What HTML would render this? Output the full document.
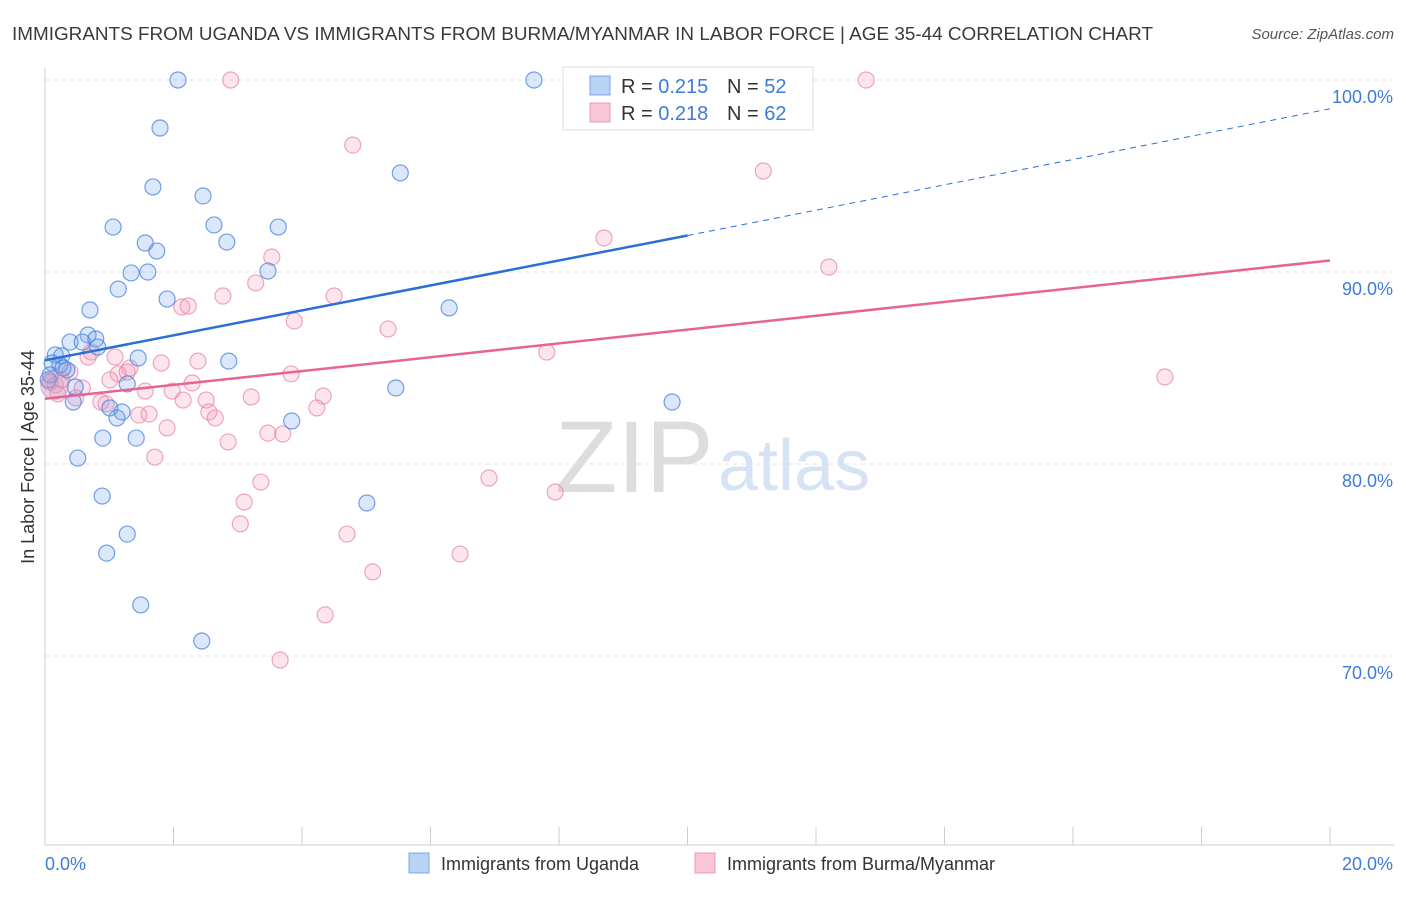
<!DOCTYPE html>
<html><head><meta charset="utf-8"><style>
body{margin:0;background:#fff;font-family:"Liberation Sans",sans-serif;}
svg text{font-family:"Liberation Sans",sans-serif;}
</style></head><body>
<svg id="chart" width="1406" height="892">
<text x="12" y="40" font-size="18" fill="#3a3a3a" textLength="1141" lengthAdjust="spacingAndGlyphs">IMMIGRANTS FROM UGANDA VS IMMIGRANTS FROM BURMA/MYANMAR IN LABOR FORCE | AGE 35-44 CORRELATION CHART</text>
<text x="1394" y="39" font-size="15" fill="#555" text-anchor="end" font-style="italic">Source: ZipAtlas.com</text>
<g>
<text x="555" y="492" font-size="102" fill="#ddd" font-family="Liberation Serif">ZIP</text>
<text x="718" y="490" font-size="72" fill="#d6e3f5">atlas</text>
</g>
<g id="grid"></g>
<line x1="45" y1="68" x2="45" y2="845" stroke="#ccc"/>
<line x1="45" y1="845" x2="1394" y2="845" stroke="#ccc"/>
<g id="ticks"></g>
<text transform="translate(34,457) rotate(-90)" font-size="18" fill="#333" text-anchor="middle">In Labor Force | Age 35-44</text>
<text x="45" y="870" font-size="18" fill="#3d7bd9">0.0%</text>
<text x="1393" y="870" font-size="18" fill="#3d7bd9" text-anchor="end">20.0%</text>
<g id="points"></g>
<g id="trends"></g>
<g>
<rect x="563" y="67" width="250" height="63" fill="#fff" stroke="#ddd"/>
<rect x="590" y="76" width="20" height="19" fill="#b9d3f5" stroke="#7aa7e6"/>
<rect x="590" y="103" width="20" height="19" fill="#f9c6d6" stroke="#ea9ab4"/>
<text x="621" y="93" font-size="20" fill="#333">R = <tspan fill="#3d7bd9">0.215</tspan></text>
<text x="727" y="93" font-size="20" fill="#333">N = <tspan fill="#3d7bd9">52</tspan></text>
<text x="621" y="120" font-size="20" fill="#333">R = <tspan fill="#3d7bd9">0.218</tspan></text>
<text x="727" y="120" font-size="20" fill="#333">N = <tspan fill="#3d7bd9">62</tspan></text>
</g>
<g>
<rect x="409" y="853" width="20" height="20" fill="#b9d3f5" stroke="#7aa7e6"/>
<text x="441" y="870" font-size="18" fill="#333">Immigrants from Uganda</text>
<rect x="695" y="853" width="20" height="20" fill="#f9c6d6" stroke="#ea9ab4"/>
<text x="727" y="870" font-size="18" fill="#333">Immigrants from Burma/Myanmar</text>
</g>
</svg>
<script>
const yTicks=[100,90,80,70];
const yTickLabels=["100.0%","90.0%","80.0%","70.0%"];
const xTicks=[0,2,4,6,8,10,12,14,16,18,20];
const ugX=[2.07,7.61,1.79,1.68,2.46,5.53,1.06,2.63,3.63,1.56,2.83,1.74,1.34,1.60,3.47,1.14,1.90,0.70,6.29,0.67,0.39,0.79,0.58,0.82,1.45,2.86,0.16,0.26,0.11,0.23,0.34,0.08,1.28,0.47,5.46,0.44,1.01,1.20,1.12,3.84,9.76,0.90,1.42,0.51,0.89,5.01,1.28,0.96,1.49,2.44,0.05,0.28];
const ugY=[100,100,97.5,94.43,93.96,95.16,92.34,92.45,92.34,91.51,91.56,91.09,89.95,90.0,90.05,89.11,88.59,88.02,88.13,86.72,86.35,86.51,86.35,86.09,85.52,85.36,85.68,85.63,85.26,85.16,84.9,84.64,84.17,84.01,83.96,83.23,82.92,82.71,82.40,82.24,83.23,81.35,81.35,80.31,78.33,77.97,76.35,75.36,72.66,70.78,84.38,85.0];
const bmX=[2.89,12.78,4.79,11.18,8.70,12.20,3.53,3.28,2.77,4.50,2.13,2.23,3.88,5.34,7.81,1.09,0.67,1.81,2.38,0.72,1.32,1.14,1.01,3.83,2.29,0.58,1.56,1.98,4.33,3.21,2.51,2.15,0.87,0.95,4.23,2.55,1.62,2.65,1.46,1.90,3.47,3.70,2.85,1.71,17.43,6.91,3.36,7.94,3.10,3.04,4.70,6.46,5.10,4.36,3.66,0.16,0.08,0.26,0.39,0.2,1.28,0.48];
const bmY=[100,100,96.61,95.26,91.77,90.26,90.78,89.43,88.75,88.75,88.18,88.23,87.45,87.03,85.83,85.57,85.57,85.26,85.36,85.83,85.0,84.69,84.38,84.69,84.22,83.96,83.8,83.8,83.54,83.49,83.33,83.33,83.23,83.13,82.92,82.71,82.6,82.4,82.55,81.88,81.61,81.56,81.15,80.36,84.53,79.27,79.06,78.54,78.02,76.88,76.35,75.31,74.38,72.14,69.79,84.11,84.27,84.38,84.79,83.65,84.79,83.44];
const ugTrend=[85.4,91.9,98.5];
const bmTrend=[83.4,90.6];
const trendX=[0,10,20];
const sx=v=>45+v*64.25, sy=v=>80+(100-v)*19.2;
const NS="http://www.w3.org/2000/svg";
function mk(t,a,p){const e=document.createElementNS(NS,t);for(const k in a)e.setAttribute(k,a[k]);p.appendChild(e);return e;}
const grid=document.getElementById('grid'),ticks=document.getElementById('ticks'),pts=document.getElementById('points'),tr=document.getElementById('trends');
yTicks.forEach((v,i)=>{
 const l=mk('line',{x1:45,x2:1394,y1:sy(v),y2:sy(v),stroke:'#e2e2e2','stroke-dasharray':'4,4'},grid);
 
 
 const t=mk('text',{x:1393,y:sy(v)+23,'font-size':18,fill:'#3d7bd9','text-anchor':'end'},grid);
 t.textContent=yTickLabels[i];
 
 
});
xTicks.forEach(v=>{
 const l=mk('line',{x1:sx(v),x2:sx(v),y1:827,y2:845,stroke:'#ccc'},ticks);
 
 
});
bmX.forEach((x,i)=>{
 const c=mk('circle',{cx:sx(x),cy:sy(bmY[i]),r:8,fill:'rgba(242,150,182,0.25)',stroke:'rgba(232,130,165,0.7)','stroke-width':1.2},pts);
 
 
});
ugX.forEach((x,i)=>{
 const c=mk('circle',{cx:sx(x),cy:sy(ugY[i]),r:8,fill:'rgba(110,160,235,0.25)',stroke:'rgba(70,130,220,0.75)','stroke-width':1.2},pts);
 
 
});
const big=mk('circle',{cx:sx(0.15),cy:sy(84.1),r:14,fill:'rgba(200,150,190,0.4)',stroke:'rgba(200,140,180,0.6)'},pts);


const u1=mk('line',{x1:sx(trendX[0]),y1:sy(ugTrend[0]),x2:sx(trendX[1]),y2:sy(ugTrend[1]),stroke:'#2a6fd6','stroke-width':2.5},tr);


const u2=mk('line',{x1:sx(trendX[1]),y1:sy(ugTrend[1]),x2:sx(trendX[2]),y2:sy(ugTrend[2]),stroke:'#2a6fd6','stroke-width':1,'stroke-dasharray':'6,5'},tr);


const b1=mk('line',{x1:sx(trendX[0]),y1:sy(bmTrend[0]),x2:sx(trendX[2]),y2:sy(bmTrend[1]),stroke:'#e8648f','stroke-width':2.5},tr);


</script>
</body></html>
